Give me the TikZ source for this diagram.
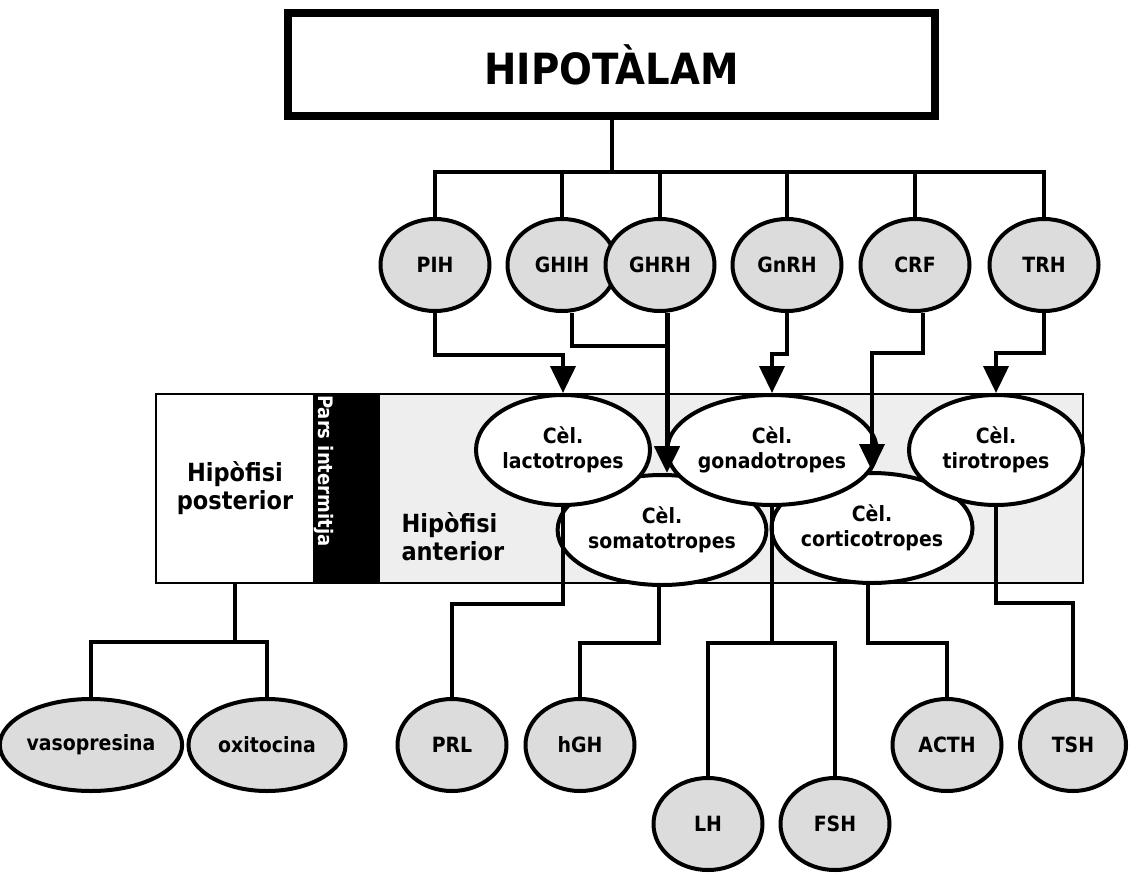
\documentclass[tikz,border=0pt]{standalone}
\usepackage{fontspec}
\setmainfont{DejaVu Sans}[FakeStretch=0.9]
\usetikzlibrary{shapes.geometric,arrows.meta}
\definecolor{grisclar}{HTML}{DCDCDC}
\definecolor{grisfons}{HTML}{EEEEEE}
\begin{document}
\begin{tikzpicture}[x=1pt,y=-1pt,>={Triangle[width=25pt,length=27pt]},
  linia/.style={line width=4pt},
  caixa/.style={draw,line width=2pt,minimum height=189pt,inner sep=0pt},
  hormona/.style={ellipse,draw,line width=4pt,fill=grisclar,minimum width=109pt,
    minimum height=92pt,inner sep=0pt,font=\bfseries\fontsize{21}{25}\selectfont},
  cella/.style={ellipse,draw,line width=4pt,fill=white,minimum width=174pt,
    minimum height=110pt,inner sep=0pt,align=center,font=\bfseries\fontsize{21}{25}\selectfont},
  gran/.style={font=\bfseries\fontsize{25}{28}\selectfont,align=center}]
  \useasboundingbox (0,0) rectangle (1130,873);
  \node[draw,line width=7.7pt,minimum width=647pt,minimum height=103pt,
    font=\bfseries\fontsize{43}{50}\selectfont] (hipo) at (611.5,64.5) {HIPOTÀLAM};
  \node[hormona] (PIH) at (435,265) {PIH};
  \node[hormona] (GHIH) at (562,265) {GHIH};
  \node[hormona] (GHRH) at (660,265) {GHRH};
  \node[hormona] (GnRH) at (787,265) {GnRH};
  \node[hormona] (CRF) at (915,265) {CRF};
  \node[hormona] (TRH) at (1044,265) {TRH};
  \draw[linia] (hipo.south) -- ++(0,52) coordinate (bus);
  \draw[linia] (PIH.north) |- (bus) -| (TRH.north);
  \foreach \h in {GHIH,GHRH,GnRH,CRF}
    \draw[linia] (\h.north) -- (\h.north |- bus);
  \node[caixa,fill=white,minimum width=158pt,gran] (post) at (235,488.5) {Hipòfisi\\posterior};
  \node[caixa,fill=black,minimum width=65pt] (pars) at (346.5,488.5) {};
  \node[caixa,fill=grisfons,minimum width=704pt] (ant) at (731,488.5) {};
  \node[rotate=-90,anchor=west,inner sep=0pt,text=white,
    font=\bfseries\fontsize{20}{24}\selectfont] (parstxt) at (324,395) {Pars intermitja};
  \node[gran,anchor=west,align=left] (anttxt) at (398,537) {Hipòfisi\\anterior};
  \node[cella] (soma) at (662,530) {Cèl.\\somatotropes};
  \node[cella] (cort) at (872,528) {Cèl.\\corticotropes};
  \node[cella] (lac) at (563,450) {Cèl.\\lactotropes};
  \node[cella] (gona) at (772,450) {Cèl.\\gonadotropes};
  \node[cella] (tiro) at (996,450) {Cèl.\\tirotropes};
  \coordinate (jGH) at (667,346);
  \draw[linia,->] (PIH.south) -- ++(0,42) -| (lac.north);
  \draw[linia] ([xshift=10pt]GHIH.south) |- (jGH);
  \draw[line width=5pt,->] ([xshift=7pt]GHRH.south) -- ([xshift=5pt]soma.north);
  \draw[linia,->] (GnRH.south) -- ++(0,41) -| (gona.north);
  \draw[linia,->] ([xshift=8pt]CRF.south) -- ++(0,40) -| (cort.north);
  \draw[linia,->] (TRH.south) -- ++(0,40) -| (tiro.north);
  \node[hormona,minimum width=157pt] (vaso) at (91,745) {vasopresina};
  \node[hormona,minimum width=157pt] (oxi) at (267,745) {oxitocina};
  \node[hormona] (PRL) at (452,745) {PRL};
  \node[hormona] (hGH) at (580,745) {hGH};
  \node[hormona] (LH) at (708,824) {LH};
  \node[hormona] (FSH) at (835,824) {FSH};
  \node[hormona] (ACTH) at (947,745) {ACTH};
  \node[hormona,minimum width=106pt] (TSH) at (1073,745) {TSH};
  \draw[linia] (post.south) -- ++(0,58) -| (vaso.north);
  \draw[linia] (post.south) ++(0,58) -| (oxi.north);
  \draw[linia] (lac.south) -- ++(0,97) -| (PRL.north);
  \draw[linia] ([xshift=-3pt]soma.south) -- ++(0,56) -| (hGH.north);
  \draw[linia] (gona.south) -- ++(0,136) -| (LH.north);
  \draw[linia] (gona.south) ++(0,136) -| (FSH.north);
  \draw[linia] ([xshift=-4pt]cort.south) -- ++(0,58) -| (ACTH.north);
  \draw[linia] (tiro.south) -- ++(0,96) -| (TSH.north);
\end{tikzpicture}
\end{document}
